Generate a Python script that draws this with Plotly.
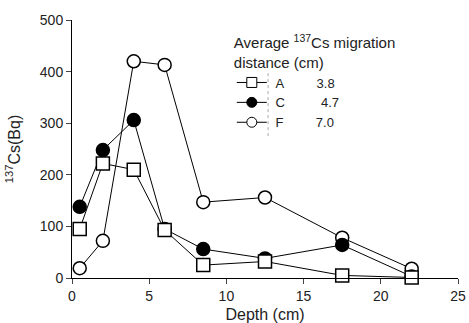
import plotly.graph_objects as go

depth = [0.5, 2, 4, 6, 8.5, 12.5, 17.5, 22]
series_names = ["A", "C", "F"]
migration = ["3.8", "&nbsp;4.7", "7.0"]
vals_A = [95, 222, 210, 93, 25, 32, 5, 1]
vals_C = [138, 248, 306, 95, 56, 38, 64, 3]
vals_F = [19, 72, 420, 413, 147, 156, 78, 18]

x_ticks = [0, 5, 10, 15, 20, 25]
y_ticks = [0, 100, 200, 300, 400, 500]

FONT = "Liberation Sans, Arial, sans-serif"
styles = {
    "A": dict(symbol="square", color="white"),
    "C": dict(symbol="circle", color="black"),
    "F": dict(symbol="circle", color="white"),
}
data = {"A": vals_A, "C": vals_C, "F": vals_F}

fig = go.Figure()
for name in ["F", "C", "A"]:
    st = styles[name]
    fig.add_trace(go.Scatter(
        x=depth, y=data[name], mode="lines+markers", showlegend=False,
        line=dict(color="black", width=1),
        marker=dict(symbol=st["symbol"], size=13, color=st["color"],
                    line=dict(color="black", width=1.5)),
        cliponaxis=False,
    ))

NB = "&nbsp;"
for name, m in zip(series_names, migration):
    st = styles[name]
    fig.add_trace(go.Scatter(
        x=[None], y=[None], mode="lines+markers",
        name=f"{NB}{name}{NB*9}{m}",
        line=dict(color="black", width=1),
        marker=dict(symbol=st["symbol"], size=10, color=st["color"],
                    line=dict(color="black", width=1)),
    ))

fig.add_shape(type="line", xref="paper", yref="paper",
              x0=0.508, x1=0.508, y0=0.55, y1=0.80,
              line=dict(color="#aaa", width=1, dash="dot"))

fig.update_layout(
    width=469, height=323,
    margin=dict(l=72, r=11, t=20, b=45),
    paper_bgcolor="white", plot_bgcolor="white",
    font=dict(family=FONT, size=13, color="#222"),
    showlegend=True,
    legend=dict(
        x=0.414, y=0.967, xanchor="left", yanchor="top",
        bgcolor="rgba(0,0,0,0)", itemwidth=30,
        title=dict(text="Average <sup>137</sup>Cs migration<br>distance (cm)",
                   side="top", font=dict(size=15)),
        font=dict(size=13), tracegroupgap=0,
    ),
    xaxis=dict(
        range=[0, 25], tickvals=x_ticks, ticks="outside", ticklen=5,
        showline=True, linecolor="black", linewidth=1, showgrid=False,
        zeroline=False, tickfont=dict(size=14), automargin=False,
        title=dict(text="Depth (cm)", font=dict(size=16)),
    ),
    yaxis=dict(
        range=[0, 500], tickvals=y_ticks, ticks="outside", ticklen=5,
        showline=True, linecolor="black", linewidth=1, showgrid=False,
        zeroline=False, tickfont=dict(size=14), automargin=False,
        title=dict(text="<sup>137</sup>Cs(Bq)", font=dict(size=16)),
    ),
)

fig.write_html("out.html")
